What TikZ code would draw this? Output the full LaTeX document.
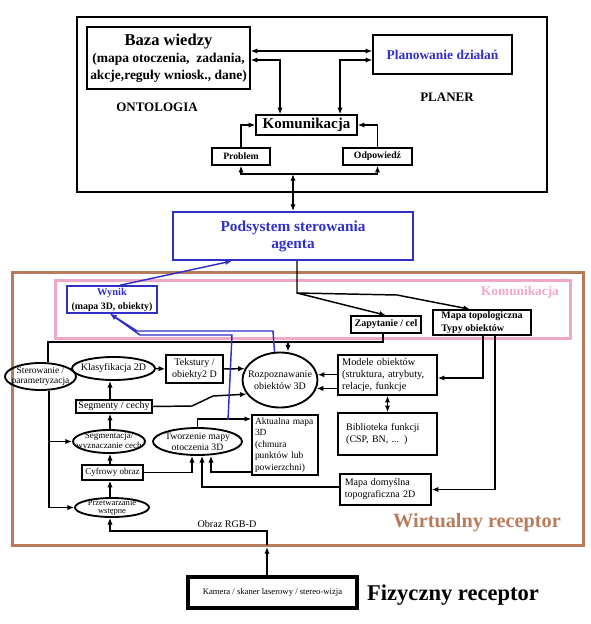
\documentclass[tikz,border=0pt]{standalone}
\usepackage{fontspec}
\setmainfont{Liberation Serif}
\usetikzlibrary{shapes.geometric,arrows.meta}

\definecolor{agentblue}{RGB}{48,48,200}
\definecolor{recbrown}{RGB}{184,124,92}
\definecolor{kompink}{RGB}{240,168,200}

\tikzset{every picture/.style={line width=0.75pt}}
\tikzset{
  >={Latex[length=5pt,width=4pt]},
  box/.style={draw, line width=1.1pt, inner sep=1pt},
  oval/.style={ellipse, draw, line width=1.4pt, inner sep=0pt},
  link/.style={line width=1.1pt},
  bluelink/.style={line width=1.1pt, draw=agentblue},
  txt/.style={font=\fontsize{7.5}{9}\selectfont},
  boldtxt/.style={font=\bfseries\fontsize{7.5}{9}\selectfont}
}

\begin{document}
\begin{tikzpicture}[x=0.75pt,y=0.75pt,yscale=-1,xscale=1]
	\useasboundingbox (0,0) rectangle (590,624);

	%Shape: Rectangle (agent frame)
	\draw [line width=1.5pt] (77,17) rectangle (547,192) ;
	%Shape: Rectangle (virtual receptor frame)
	\draw [draw=recbrown, line width=2.25pt] (12,272) rectangle (583,545) ;
	%Shape: Rectangle (communication frame)
	\draw [draw=kompink, line width=2.25pt] (55,280) rectangle (570,338) ;

	% top part
	\node [box, minimum width=122.25pt, minimum height=46.5pt, align=center, font=\bfseries\fontsize{10.1}{12.75}\selectfont] (baza) at (168.5,58) {{\fontsize{12.4}{13}\selectfont Baza wiedzy}\\(mapa otoczenia,~ zadania,\\akcje,reguły wniosk., dane)};
	\node [box, minimum width=104.25pt, minimum height=29.25pt, text=agentblue, font=\bfseries\fontsize{10.1}{12}\selectfont] (plan) at (442.5,54.5) {Planowanie działań};
	\node [font=\bfseries\fontsize{9.75}{12}\selectfont] (onto) at (157,107) {ONTOLOGIA};
	\node [font=\bfseries\fontsize{9.75}{12}\selectfont] (planer) at (447,97) {PLANER};
	\node [box, minimum width=75.75pt, minimum height=15pt, font=\bfseries\fontsize{11.25}{13}\selectfont] (kom) at (306.5,125) {Komunikacja};
	\node [box, minimum width=43.5pt, minimum height=12.75pt, font=\bfseries\fontsize{7.3}{9}\selectfont] (prob) at (241,156.5) {Problem};
	\node [box, minimum width=51.75pt, minimum height=12.75pt, font=\bfseries\fontsize{7.3}{9}\selectfont] (odp) at (377.5,156.5) {Odpowiedź};

	%Straight Lines
	\draw [link, <->] (baza.east |- 0,51) -- (plan.west |- 0,51) ;
	\draw [link, <->] (baza.east |- 0,60) -| (kom.north -| 280,0) ;
	\draw [link, <->] (plan.west |- 0,60) -| (kom.north -| 340,0) ;
	\draw [link, ->] (prob.north) |- (kom.west) ;
	\draw [link, ->] (odp.north) |- (kom.east) ;
	\draw [link, <->] (prob.south) -- (prob.south |- 0,174) -| (odp.south) ;

	% agent control
	\node [box, draw=agentblue, line width=1.5pt, minimum width=180pt, minimum height=36pt, align=center, text=agentblue, font=\bfseries\fontsize{11.5}{12.75}\selectfont] (pod) at (293,236) {Podsystem sterowania\\agenta};
	\draw [link, <->] (pod.north) -- (pod.north |- 0,174) ;

	% communication layer
	\node [text=kompink, font=\bfseries\fontsize{10}{12}\selectfont] (komlab) at (520,292) {Komunikacja};
	\node [box, draw=agentblue, minimum width=67.5pt, minimum height=20.25pt, align=center, font=\bfseries\fontsize{7.4}{10.5}\selectfont] (wynik) at (112,299.5) {{\color{agentblue}\fontsize{7.8}{10.5}\selectfont Wynik}\\(mapa 3D, obiekty)};
	\node [box, minimum width=52.5pt, minimum height=12.75pt, boldtxt] (zap) at (386,324.5) {Zapytanie / cel};
	\node [box, minimum width=73.5pt, minimum height=18.75pt, align=left, font=\bfseries\fontsize{7.5}{9.5}\selectfont] (mtop) at (482,322.5) {Mapa topologiczna\\Typy obiektów};

	\draw [link, ->] (pod.south -| 297,0) -- (297,293) -- (zap.north) ;
	\draw [link, ->] (297,293) -- (397,295) -- (mtop.north -| 470,0) ;
	\draw [bluelink, ->] (wynik.north -| 120,0) -- (pod.south -| 232,0) ;

	% virtual receptor
	\node [oval, minimum width=56.25pt, minimum height=41.25pt, label={[txt, align=center]center:Rozpoznawanie\\obiektów 3D}] (roz) at (280,380) {};
	\node [box, minimum width=74.25pt, minimum height=30pt, text width=68pt, align=left, font=\fontsize{7.7}{9}\selectfont] (mod) at (387.5,375) {Modele obiektów\\(struktura, atrybuty,\\relacje, funkcje};
	\node [box, minimum width=74.25pt, minimum height=31.5pt, text width=62pt, align=left, font=\fontsize{7.5}{9}\selectfont] (bib) at (387.5,434) {Biblioteka funkcji\\(CSP, BN, ... )};
	\node [box, minimum width=49.5pt, minimum height=45pt, text width=45pt, align=left, font=\fontsize{7.1}{8.6}\selectfont] (akt) at (285,445) {Aktualna mapa\\3D\\(chmura\\punktów lub\\powierzchni)};
	\node [box, minimum width=68.25pt, minimum height=23.25pt, text width=61pt, align=left, txt] (mdom) at (385.5,489.5) {Mapa domyślna\\topograficzna 2D};

	\node [oval, minimum width=53.25pt, minimum height=20.25pt, label={[font=\fontsize{7.1}{8}\selectfont, align=center]center:Sterowanie /\\parametryzacja}] (ster) at (40.5,376.5) {};
	\node [oval, minimum width=62.25pt, minimum height=17.25pt, label={[txt]center:Klasyfikacja 2D}] (klas) at (113.5,368.5) {};
	\node [box, minimum width=42.75pt, minimum height=21pt, align=center, txt] (tek) at (194.5,369) {Tekstury /\\obiekty2 D};
	\node [box, minimum width=57pt, minimum height=9.75pt, inner sep=0.5pt, txt] (seg) at (114,406.5) {Segmenty / cechy};
	\node [oval, minimum width=66.75pt, minimum height=20.25pt, label={[font=\fontsize{7.3}{8.5}\selectfont, align=center]center:Tworzenie mapy\\otoczenia 3D}] (tw) at (197.5,441.5) {};
	\node [oval, minimum width=54pt, minimum height=17.25pt, label={[font=\fontsize{6.75}{7.5}\selectfont, align=center]center:Segmentacja/\\wyznaczanie cech}] (sgm) at (109,441.5) {};
	\node [box, minimum width=45.75pt, minimum height=11.25pt, inner sep=0.5pt, font=\fontsize{6.75}{8}\selectfont] (cyf) at (112.5,472.5) {Cyfrowy obraz};
	\node [oval, minimum width=55.5pt, minimum height=14.25pt, label={[font=\fontsize{6.4}{6.6}\selectfont, align=center]center:Przetwarzanie\\wstępne}] (prz) at (112,507.5) {};
	\node [txt, font=\fontsize{7.6}{9}\selectfont] (rgbd) at (227,524) {Obraz RGB-D};
	\node [text=recbrown, font=\bfseries\fontsize{15.2}{18}\selectfont] (wirt) at (477,523) {Wirtualny receptor};

	% physical receptor
	\node [box, line width=2.6pt, minimum width=126.75pt, minimum height=23.25pt, font=\fontsize{6.5}{8}\selectfont] (kam) at (272.5,592.5) {Kamera / skaner laserowy / stereo-wizja};
	\node [font=\bfseries\fontsize{16.9}{20}\selectfont] (fiz) at (453,595) {Fizyczny receptor};

	%Straight Lines
	\draw [link] (zap.south -| 383,0) -- (383,342) -- (48,342) -- (ster.north -| 48,0) ;
	\draw [link, ->] (288,342) -- (roz.north -| 288,0) ;
	\draw [link, ->] (mtop.south -| 483,0) |- (mod.east |- 0,378) ;
	\draw [link, ->] (mtop.south -| 495,0) |- (mdom.east) ;
	\draw [link, ->] (mod.west |- roz.8) -- (roz.8) ;
	\draw [link, ->] (mod.west |- roz.-13) -- (roz.-13) ;
	\draw [link, <->] (mod.south) -- (bib.north) ;
	\draw [link, ->] (klas.east) -- (tek.west) ;
	\draw [link, ->] (tek.east) -- (roz.162) ;
	\draw [link, ->] (seg.north -| 110,0) -- (klas.south -| 110,0) ;
	\draw [link, ->] (seg.east) -- (192,406) -- (213,396) -- (roz.203) ;
	\draw [link, ->] (sgm.north -| 110,0) -- (seg.south -| 110,0) ;
	\draw [link, ->] (cyf.north -| 110,0) -- (sgm.south -| 110,0) ;
	\draw [link, ->] (prz.north -| 110,0) -- (cyf.south -| 110,0) ;
	\draw [link, ->] (ster.south -| 49,0) |- (sgm.west) ;
	\draw [link, ->] (ster.south -| 49,0) |- (prz.west) ;
	\draw [link, ->] (tw.north) |- (akt.west |- 0,419) ;
	\draw [link, ->] (cyf.east) -| (tw.south -| 192,0) ;
	\draw [link, ->] (akt.west |- 0,472) -| (tw.south -| 211,0) ;
	\draw [link, ->] (mdom.west |- 0,487) -| (tw.south -| 202,0) ;
	\draw [link, ->] (kam.north -| 267,0) -- (267,547) ;
	\draw [link, ->] (267,545) -- (267,531) -| (prz.south -| 110,0) ;

	%Blue lines (results)
	\draw [bluelink, ->] (228,420) -- (232,335) -- (140,335) -- (wynik.south -| 110,0) ;
	\draw [bluelink, ->] (roz.101) -- (273,331) -- (137,331) -- (wynik.south -| 110,0) ;

\end{tikzpicture}
\end{document}
